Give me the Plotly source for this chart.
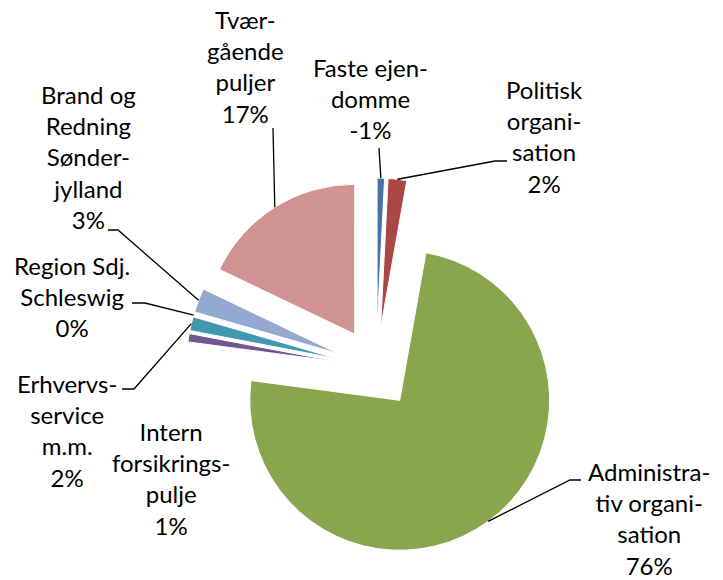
import math
import plotly.graph_objects as go

W, H = 723, 580

# Kategorier i urets retning fra kl. 12
labels = ["Faste ejendomme", "Politisk organisation", "Administrativ organisation",
          "Intern forsikringspulje", "Erhvervsservice m.m.", "Region Sdj. Schleswig",
          "Brand og Redning Sønderjylland", "Tværgående puljer"]
# numerisk andel (Faste ejendomme er negativ i tabellen, vises som -1%)
values = [0.8, 2.0, 74.3, 0.9, 1.5, 0.0, 2.6, 17.9]
pct_text = ["-1%", "2%", "76%", "1%", "2%", "0%", "3%", "17%"]
label_text = ["Faste ejen-<br>domme", "Politisk<br>organi-<br>sation",
              "Administra-<br>tiv organi-<br>sation", "Intern<br>forsikrings-<br>pulje",
              "Erhvervs-<br>service<br>m.m.", "Region Sdj.<br>Schleswig",
              "Brand og<br>Redning<br>Sønder-<br>jylland", "Tvær-<br>gående<br>puljer"]
colors = ["#4572A7", "#AA4643", "#89A54E", "#71588F", "#4198AF", "#DB843D",
          "#93A9CF", "#D19392"]

# layout: label centre (px) og knækpunkter for forbindelseslinjer (px)
label_pos = [(371, 99), (544, 136), (649, 518), (171, 478), (67, 430), (72, 296),
             (88, 157), (245, 67)]
leader_pts = [[(379, 148)], [(507, 161), (495, 161)], [(581, 480), (570, 480)], None,
              [(122, 389), (134, 389)], [(132, 303), (145, 303)],
              [(108, 230), (118, 230)], [(273, 128)]]

dom_x = [0.2574, 0.7829]
dom_y = [0.0379, 0.6931]
pull = 0.267

fig = go.Figure(go.Pie(
    labels=labels, values=values, sort=False, direction="clockwise", rotation=0,
    pull=[pull] * len(values), textinfo="none", hoverinfo="label+percent",
    marker=dict(colors=colors, line=dict(color="white", width=1)),
    domain=dict(x=dom_x, y=dom_y), showlegend=False))

# pie-geometri som plotly beregner den
cx = W * (dom_x[0] + dom_x[1]) / 2
cy = H * (1 - (dom_y[0] + dom_y[1]) / 2)
r = min(W * (dom_x[1] - dom_x[0]), H * (dom_y[1] - dom_y[0])) / (2 + 2 * pull)
total = sum(values)

def px(x, y):
    return x / W, 1 - y / H

annotations = []
shapes = []
cum = 0
for i, v in enumerate(values):
    mid = math.radians((cum + v / 2) / total * 360)
    cum += v
    ax = cx + (pull * r + r) * math.sin(mid)
    ay = cy - (pull * r + r) * math.cos(mid)
    lx, ly = label_pos[i]
    annotations.append(dict(
        x=lx / W, y=1 - ly / H, xref="paper", yref="paper", showarrow=False,
        text=label_text[i] + "<br>" + pct_text[i], align="center",
        xanchor="center", yanchor="middle",
        font=dict(family="Lato", size=24, color="black")))
    if leader_pts[i]:
        pts = [px(*p) for p in leader_pts[i]] + [px(ax, ay)]
        path = "M " + " L ".join(f"{x:.5f},{y:.5f}" for x, y in pts)
        shapes.append(dict(type="path", path=path, xref="paper", yref="paper",
                           line=dict(color="black", width=1.3)))

fig.update_layout(
    width=W, height=H, margin=dict(l=0, r=0, t=0, b=0),
    paper_bgcolor="white", plot_bgcolor="white",
    annotations=annotations, shapes=shapes)

# siden har ellers 8px body-margin
fig.write_html("out.html", config={"displayModeBar": False},
               post_script="document.body.style.margin='0';")
